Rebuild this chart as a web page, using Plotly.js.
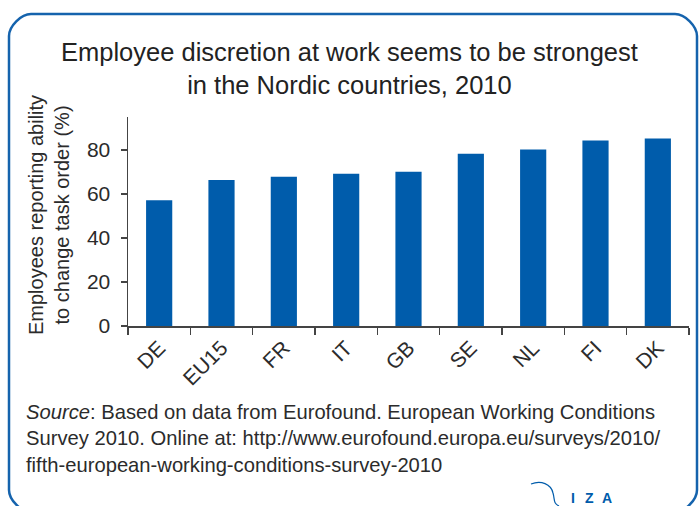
<!DOCTYPE html>
<html>
<head>
<meta charset="utf-8">
<script src="https://cdn.plot.ly/plotly-3.0.1.min.js"></script>
<style>
html,body{margin:0;padding:0;background:#fff;}
#chart{width:699px;height:506px;}
</style>
</head>
<body>
<div id="chart"></div>
<script>
const categories = ["DE","EU15","FR","IT","GB","SE","NL","FI","DK"];
const values = [57.2, 66.4, 67.8, 69.2, 70.1, 78.3, 80.2, 84.3, 85.2];
const yTicks = [0, 20, 40, 60, 80];
const logoLetters = ["I","Z","A"];

const W = 699, H = 506;
const M = {l:128, r:10, t:117, b:180};
const PW = W - M.l - M.r, PH = H - M.t - M.b;
const px = x => (x - M.l) / PW;
const py = y => (H - M.b - y) / PH;

const FONT = "Liberation Sans, Arial, sans-serif";
const TXT = "#2b2b2b";
const BLUE = "#005cab";

function roundRect(x0, y0, x1, y1, r) {
  const k = 0.45 * r;
  return [
    `M ${px(x0+r)},${py(y0)}`,
    `L ${px(x1-r)},${py(y0)}`,
    `C ${px(x1-r+k)},${py(y0)} ${px(x1)},${py(y0+r-k)} ${px(x1)},${py(y0+r)}`,
    `L ${px(x1)},${py(y1-r)}`,
    `C ${px(x1)},${py(y1-r+k)} ${px(x1-r+k)},${py(y1)} ${px(x1-r)},${py(y1)}`,
    `L ${px(x0+r)},${py(y1)}`,
    `C ${px(x0+r-k)},${py(y1)} ${px(x0)},${py(y1-r+k)} ${px(x0)},${py(y1-r)}`,
    `L ${px(x0)},${py(y0+r)}`,
    `C ${px(x0)},${py(y0+r-k)} ${px(x0+r-k)},${py(y0)} ${px(x0+r)},${py(y0)} Z`
  ].join(" ");
}

const logoPath = `M ${px(531)},${py(484)} C ${px(541)},${py(480)} ${px(551)},${py(484)} ${px(553)},${py(493)} C ${px(555)},${py(500)} ${px(553)},${py(503)} ${px(559)},${py(506)}`;

const data = [{
  type: "bar",
  x: categories,
  y: values,
  width: 0.42,
  marker: {color: BLUE},
  hoverinfo: "x+y"
}];

const annotations = [
  {
    text: "Employee discretion at work seems to be strongest<br>in the Nordic countries, 2010",
    xref: "paper", yref: "paper",
    x: px(349.5), y: py(69), xanchor: "center", yanchor: "middle",
    showarrow: false,
    font: {family: FONT, size: 25.5, color: "#222"}
  },
  {
    text: "Employees reporting ability<br>to change task order (%)",
    xref: "paper", yref: "paper",
    x: px(49), y: py(215), xanchor: "center", yanchor: "middle",
    textangle: -90, showarrow: false,
    font: {family: FONT, size: 20, color: TXT}
  },
  {
    text: "<i>Source</i>: Based on data from Eurofound. European Working Conditions<br>Survey 2010. Online at: http://www.eurofound.europa.eu/surveys/2010/<br>fifth-european-working-conditions-survey-2010",
    xref: "paper", yref: "paper",
    x: px(24), y: py(399), xanchor: "left", yanchor: "top",
    align: "left", showarrow: false,
    font: {family: FONT, size: 20.2, color: TXT}
  }
];
const logoX = [573, 589, 607];
logoLetters.forEach((t, i) => annotations.push({
  text: "<b>" + t + "</b>",
  xref: "paper", yref: "paper",
  x: px(logoX[i]), y: py(498), xanchor: "center", yanchor: "middle",
  showarrow: false,
  font: {family: FONT, size: 14, color: BLUE}
}));

const layout = {
  width: W, height: H,
  margin: M,
  paper_bgcolor: "#fff",
  plot_bgcolor: "#fff",
  showlegend: false,
  font: {family: FONT, color: TXT, size: 19},
  xaxis: {
    type: "category",
    range: [-0.5, 8.5],
    tickson: "boundaries",
    ticks: "outside", ticklen: 7, tickwidth: 1.5, tickcolor: "#444",
    showline: true, linecolor: "#444", linewidth: 1.5,
    showgrid: false, zeroline: false,
    tickangle: -45,
    tickfont: {family: FONT, size: 21, color: TXT},
    fixedrange: true
  },
  yaxis: {
    range: [0, 95],
    tickvals: yTicks,
    ticktext: yTicks.map(String),
    ticks: "outside", ticklen: 6, tickwidth: 1.5, tickcolor: "#444",
    ticklabelstandoff: 6,
    showline: true, linecolor: "#444", linewidth: 1.5,
    showgrid: false, zeroline: false,
    tickfont: {family: FONT, size: 21, color: TXT},
    fixedrange: true
  },
  annotations: annotations,
  shapes: [
    {
      type: "path", xref: "paper", yref: "paper",
      path: roundRect(9, 14, 697, 512, 22),
      line: {color: "#1563ad", width: 2.5},
      fillcolor: "rgba(0,0,0,0)", layer: "below"
    },
    {
      type: "path", xref: "paper", yref: "paper",
      path: logoPath,
      line: {color: BLUE, width: 1.2},
      fillcolor: "rgba(0,0,0,0)"
    }
  ]
};

Plotly.newPlot("chart", data, layout, {displayModeBar: false, staticPlot: true});
</script>
</body>
</html>
